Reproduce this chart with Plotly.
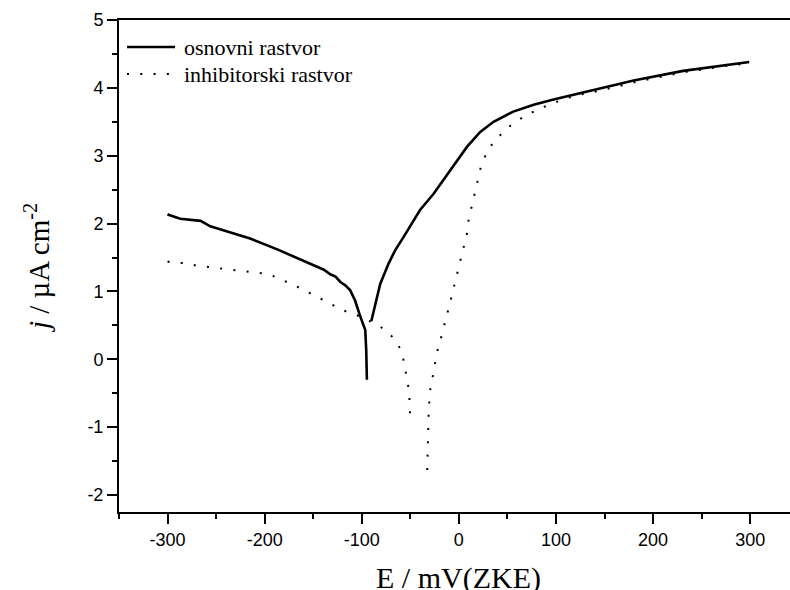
import plotly.graph_objects as go

# osnovni rastvor (solid) - cathodic branch
E_osn_cat = [-300, -299, -287, -266, -256, -239, -215, -187, -163, -139, -132, -127,
             -122, -117, -112, -107, -102, -98, -96.4, -95.4, -94.7]
j_osn_cat = [2.14, 2.13, 2.07, 2.04, 1.96, 1.89, 1.78, 1.62, 1.47, 1.32, 1.25, 1.22,
             1.14, 1.09, 1.02, 0.87, 0.65, 0.50, 0.43, 0.13, -0.30]
# osnovni rastvor (solid) - anodic branch
E_osn_an = [-90.2, -86, -81, -72.4, -65.5, -57, -40, -26, -16, -5.5, 8.3, 22, 35.7,
            56, 77, 97.5, 128, 180, 231, 283, 299]
j_osn_an = [0.56, 0.82, 1.11, 1.41, 1.61, 1.80, 2.20, 2.44, 2.64, 2.84, 3.13, 3.35, 3.50,
            3.65, 3.75, 3.83, 3.93, 4.11, 4.25, 4.35, 4.38]

# inhibitorski rastvor (dotted) - cathodic branch
E_inh_cat = [-300, -294, -283.5, -270, -258, -246, -235, -223, -211, -198, -188, -174,
             -160.6, -146, -132.5, -119, -106.7, -97, -81.7, -73.4, -67, -61.4, -57.6,
             -55, -52.5, -51, -50.4, -49.8]
j_inh_cat = [1.44, 1.42, 1.42, 1.38, 1.36, 1.34, 1.32, 1.30, 1.28, 1.26, 1.21, 1.12,
             1.03, 0.92, 0.82, 0.72, 0.66, 0.60, 0.49, 0.40, 0.31, 0.18, 0.03,
             -0.15, -0.35, -0.55, -0.74, -0.94]
# inhibitorski rastvor (dotted) - anodic branch
E_inh_an = [-32.6, -32.3, -32.3, -31.6, -31.2, -30.5, -29.5, -27, -25, -22.6, -19.2,
            -16.4, -13.3, -10, -6.5, -3.8, -0.3, 2.4, 8.3, 10, 13.4, 16.8, 19.2, 22,
            26, 31.2, 37.4, 44.3, 51.8, 59.8, 69.3, 80.3, 94, 106, 118, 146, 180, 231,
            283, 299]
j_inh_an = [-1.63, -1.43, -1.24, -1.04, -0.84, -0.64, -0.45, -0.26, -0.08, 0.10, 0.27,
            0.44, 0.60, 0.78, 0.98, 1.15, 1.32, 1.50, 1.85, 2.05, 2.27, 2.45, 2.63, 2.80,
            2.96, 3.11, 3.23, 3.33, 3.43, 3.51, 3.60, 3.67, 3.76, 3.82, 3.88, 3.96, 4.08,
            4.23, 4.34, 4.36]

series_names = ["osnovni rastvor", "inhibitorski rastvor"]
x_ticks = [-300, -200, -100, 0, 100, 200, 300]
y_ticks = [-2, -1, 0, 1, 2, 3, 4, 5]

SERIF = "Liberation Serif, Times New Roman, serif"
SANS = "Liberation Sans, Arial, sans-serif"
DOT = "2px,11.3px"

fig = go.Figure()
fig.add_trace(go.Scatter(x=E_osn_cat + [None] + E_osn_an, y=j_osn_cat + [None] + j_osn_an,
                         mode="lines", name=series_names[0], connectgaps=False,
                         showlegend=False, line=dict(color="black", width=2.6)))
fig.add_trace(go.Scatter(x=E_inh_cat + [None] + E_inh_an, y=j_inh_cat + [None] + j_inh_an,
                         mode="lines", name=series_names[1], connectgaps=False,
                         showlegend=False, line=dict(color="black", width=2, dash=DOT)))

axis_common = dict(showgrid=False, zeroline=False, showline=True, linecolor="black",
                   linewidth=2, ticks="outside", ticklen=10, tickwidth=1.5,
                   tickcolor="black",
                   tickfont=dict(family=SANS, size=18, color="black"))

# manual legend (sample lines + labels), in paper coordinates
leg_rows_y = [0.945, 0.890]
leg_x0, leg_x1, leg_tx = 0.0119, 0.0835, 0.0939
shapes = [
    dict(type="line", xref="paper", yref="paper", x0=leg_x0, x1=leg_x1,
         y0=leg_rows_y[0], y1=leg_rows_y[0], line=dict(color="black", width=2.6)),
    dict(type="line", xref="paper", yref="paper", x0=leg_x0, x1=leg_x1,
         y0=leg_rows_y[1], y1=leg_rows_y[1], line=dict(color="black", width=2, dash=DOT)),
]
annotations = [
    dict(text=series_names[i], x=leg_tx, xref="paper", y=leg_rows_y[i], yref="paper",
         xanchor="left", yanchor="middle", showarrow=False,
         font=dict(family=SERIF, size=22, color="black"))
    for i in range(2)
]
annotations.append(dict(text="E / mV(ZKE)", x=0, xref="x", y=-0.1337, yref="paper",
                        xanchor="center", yanchor="middle", showarrow=False,
                        font=dict(family=SERIF, size=30, color="black")))
annotations.append(dict(text="<i>j</i> / µA cm<sup>-2</sup>", x=-0.122, xref="paper",
                        y=0.496, yref="paper", textangle=-90, xanchor="center",
                        yanchor="middle", showarrow=False,
                        font=dict(family=SERIF, size=29, color="black")))

fig.update_layout(
    width=790, height=590,
    margin=dict(l=119, r=0, t=20, b=78),
    paper_bgcolor="white", plot_bgcolor="white",
    showlegend=False,
    xaxis=dict(range=[-350, 341], tickvals=x_ticks, ticktext=[str(v) for v in x_ticks],
               mirror=True,
               minor=dict(dtick=50, tick0=0, ticks="outside", ticklen=5, tickwidth=1.5,
                          tickcolor="black"),
               **axis_common),
    yaxis=dict(range=[-2.25, 5], tickvals=y_ticks, ticktext=[str(v) for v in y_ticks],
               mirror=False,
               minor=dict(dtick=0.5, tick0=0, ticks="outside", ticklen=5, tickwidth=1.5,
                          tickcolor="black"),
               **axis_common),
    shapes=shapes,
    annotations=annotations,
)

fig.write_html("out.html")
